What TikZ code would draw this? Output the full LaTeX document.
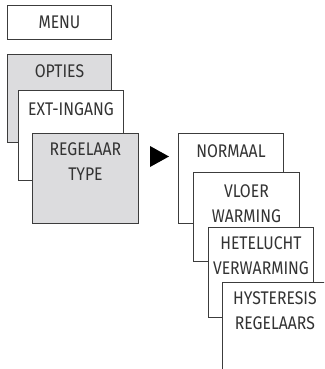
\documentclass[tikz,border=0pt]{standalone}
\usepackage{fontspec}
\setmainfont{Fira Sans}[FakeStretch=0.86]
\definecolor{boxgray}{RGB}{220,220,222}
\definecolor{edge}{RGB}{60,60,60}
\begin{document}
\begin{tikzpicture}[x=1pt,y=-1pt,
  menubox/.style={draw=edge, line width=0.9pt, fill=white, rectangle, inner sep=0pt, anchor=north west, minimum width=104pt},
  graybox/.style={menubox, fill=boxgray},
  lbl/.style={anchor=north, inner sep=0pt, align=center, font=\fontsize{18.3}{24.5}\selectfont, text=black!80}]
\useasboundingbox (0,0) rectangle (324,369);
\clip (0,0) rectangle (324,369);
% left column
\node[menubox, minimum height=34pt] (menu) at (7,5) {};
\node[lbl] (menut) at ([yshift=-11pt]menu.north) {MENU};
\node[graybox, minimum height=88pt] (opties) at (7,54) {};
\node[lbl] (optiest) at ([yshift=-10.5pt]opties.north) {OPTIES};
\node[menubox, minimum height=90pt, minimum width=105pt] (ext) at (18,90) {};
\node[lbl] (extt) at ([yshift=-12.5pt]ext.north) {EXT-INGANG};
\node[graybox, minimum height=90pt, minimum width=106pt] (reg) at (32,133) {};
\node[lbl] (regt) at ([yshift=-9.5pt]reg.north) {REGELAAR\\TYPE};
% arrow
\fill[black] (150,146) -- (169,156.5) -- (150,167) -- cycle;
% right column
\node[menubox, minimum height=90pt, minimum width=105pt] (norm) at (178,133) {};
\node[lbl] (normt) at ([yshift=-11.5pt]norm.north) {NORMAAL};
\node[menubox, minimum height=89pt, minimum width=106pt] (vloer) at (193,172) {};
\node[lbl] (vloert) at ([yshift=-12.5pt]vloer.north) {VLOER\\WARMING};
\node[menubox, minimum height=90pt, minimum width=105pt] (hete) at (208,227) {};
\node[lbl] (hetet) at ([yshift=-9.5pt]hete.north) {HETELUCHT\\VERWARMING};
\node[menubox, minimum height=100pt, minimum width=108pt] (hyst) at (222,282) {};
\node[lbl] (hystt) at ([xshift=-1.5pt,yshift=-9.5pt]hyst.north) {HYSTERESIS\\REGELAARS};
\end{tikzpicture}
\end{document}
